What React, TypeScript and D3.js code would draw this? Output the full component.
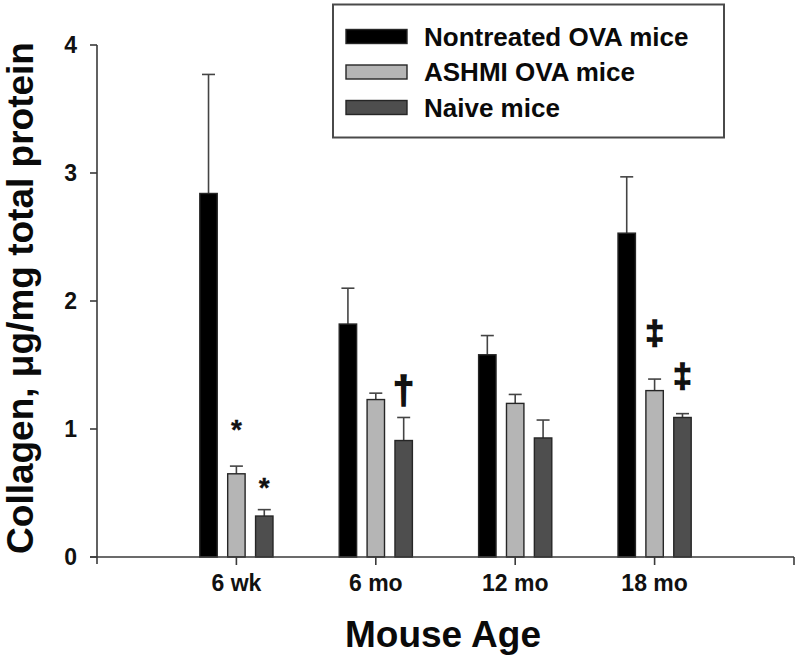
import React from 'react';
import * as d3 from 'd3';

const categories = ['6 wk', '6 mo', '12 mo', '18 mo'];
const seriesNames = ['Nontreated OVA mice', 'ASHMI OVA mice', 'Naive mice'];
const nontreated = [2.84, 1.82, 1.58, 2.53];
const nontreatedErr = [0.93, 0.28, 0.15, 0.44];
const ashmi = [0.65, 1.23, 1.2, 1.3];
const ashmiErr = [0.06, 0.05, 0.07, 0.09];
const naive = [0.32, 0.91, 0.93, 1.09];
const naiveErr = [0.05, 0.18, 0.14, 0.03];
const yTicks = [0, 1, 2, 3, 4];
const annotationSymbols = ['*', '*', '\u2020', '\u2021', '\u2021'];
const annotationCats = [0, 0, 1, 3, 3];
const annotationSeries = [1, 2, 2, 1, 2];
const annotationValues = [1.05, 0.59, 1.29, 1.74, 1.41];

const seriesValues = [nontreated, ashmi, naive];
const seriesErrs = [nontreatedErr, ashmiErr, naiveErr];
const seriesColors = ['#000000', '#b5b5b5', '#4e4e4e'];
const seriesOffsets = [-0.2, 0, 0.2];
const FONT = '"Liberation Sans", Arial, Helvetica, sans-serif';

export default function App() {
  const x = d3.scaleLinear().domain([0, 5]).range([97, 794]);
  const y = d3.scaleLinear().domain([0, 4]).range([557, 45]);
  const barW = x(0.125) - x(0);
  const capW = 13;
  const axisColor = '#3a3a3a';

  const symStyle: Record<string, { size: number; dy: number; sw: number }> = {
    '*': { size: 28, dy: 16, sw: 0.3 },
    '\u2020': { size: 38, dy: 11, sw: 1.6 },
    '\u2021': { size: 34, dy: 10, sw: 1.4 },
  };

  return (
    <svg width={800} height={661} style={{ position: 'absolute', left: 0, top: 0, background: '#fff' }} fontFamily={FONT}>
      <rect x={0} y={0} width={800} height={661} fill="#fff" />
      {/* bars */}
      {seriesValues.map((vals, s) =>
        vals.map((v, i) => {
          const cx = x(i + 1 + seriesOffsets[s]);
          return (
            <g key={`b${s}-${i}`}>
              <line x1={cx} x2={cx} y1={y(v)} y2={y(v + seriesErrs[s][i])} stroke="#444" strokeWidth={1.6} />
              <line x1={cx - capW / 2} x2={cx + capW / 2} y1={y(v + seriesErrs[s][i])} y2={y(v + seriesErrs[s][i])} stroke="#444" strokeWidth={1.6} />
              <rect x={cx - barW / 2} y={y(v)} width={barW} height={y(0) - y(v)} fill={seriesColors[s]} stroke="#262626" strokeWidth={1.4} />
            </g>
          );
        })
      )}
      {/* annotations */}
      {annotationSymbols.map((sym, k) => (
        <text key={`a${k}`} x={x(annotationCats[k] + 1 + seriesOffsets[annotationSeries[k]])} y={y(annotationValues[k]) + symStyle[sym].dy}
          textAnchor="middle" fontSize={symStyle[sym].size} fontWeight="bold" fill="#111" stroke="#111" strokeWidth={symStyle[sym].sw}>{sym}</text>
      ))}
      {/* y axis */}
      <line x1={x(0)} x2={x(0)} y1={y(4)} y2={y(0) + 7} stroke={axisColor} strokeWidth={1.6} />
      {yTicks.map((t) => (
        <g key={`yt${t}`}>
          <line x1={x(0) - 7} x2={x(0)} y1={y(t)} y2={y(t)} stroke={axisColor} strokeWidth={1.6} />
          <text x={77} y={y(t) + 8} textAnchor="end" fontSize={23} fontWeight="bold" fill="#111">{t}</text>
        </g>
      ))}
      {/* x axis */}
      <line x1={x(0) - 7} x2={x(5)} y1={y(0)} y2={y(0)} stroke={axisColor} strokeWidth={1.6} />
      <line x1={x(5)} x2={x(5)} y1={y(0)} y2={y(0) + 8} stroke={axisColor} strokeWidth={1.6} />
      {categories.map((c, i) => (
        <g key={`xt${i}`}>
          <line x1={x(i + 1)} x2={x(i + 1)} y1={y(0)} y2={y(0) + 8} stroke={axisColor} strokeWidth={1.6} />
          <text x={x(i + 1)} y={591} textAnchor="middle" fontSize={23} fontWeight="bold" fill="#111">{c}</text>
        </g>
      ))}
      {/* axis titles */}
      <text x={443} y={647} textAnchor="middle" fontSize={37} fontWeight="bold" fill="#0a0a0a">Mouse Age</text>
      <text transform="translate(33,298) rotate(-90)" textAnchor="middle" fontSize={37} fontWeight="bold" fill="#0a0a0a">
        Collagen, {'\u03bc'}g/mg total protein
      </text>
      {/* legend */}
      <rect x={333} y={4.5} width={391} height={133} fill="#fff" stroke="#4a4a4a" strokeWidth={2} />
      {seriesNames.map((n, s) => (
        <g key={`l${s}`}>
          <rect x={346} y={29.5 + s * 35.5} width={61} height={14} fill={seriesColors[s]} stroke="#262626" strokeWidth={1.4} />
          <text x={424} y={45.5 + s * 35.5} fontSize={26} fontWeight="bold" fill="#0a0a0a">{n}</text>
        </g>
      ))}
    </svg>
  );
}
